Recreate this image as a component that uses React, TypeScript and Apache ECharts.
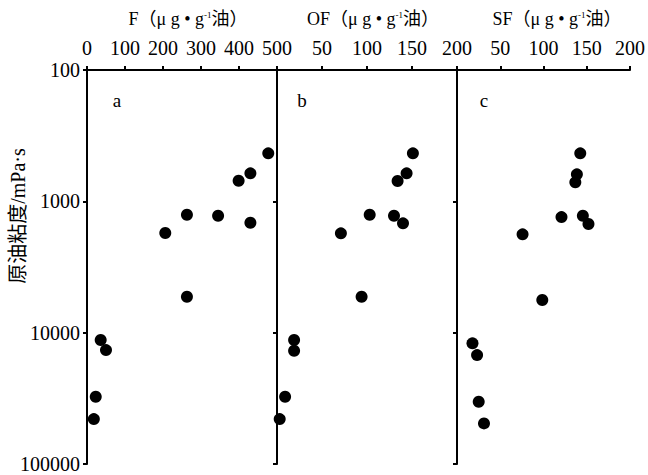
import React, { useEffect, useRef } from "react";
import * as echarts from "echarts";

// Panel a: F content (μg/g oil) vs crude oil viscosity (mPa·s)
const fValues = [477, 430, 399, 263, 345, 430, 206, 263, 36, 50, 23, 18];
const viscA = [431, 612, 697, 1265, 1288, 1455, 1743, 5330, 11380, 13570, 30760, 45500];
// Panel b: OF content
const ofValues = [151, 144, 134, 103, 130, 140, 71, 94, 19, 19, 9, 3];
const viscB = [431, 612, 700, 1265, 1288, 1471, 1753, 5330, 11380, 13730, 30760, 45500];
// Panel c: SF content
const sfValues = [142.5, 138.6, 136.8, 120.8, 145.5, 152, 75.8, 98.6, 17.9, 23.2, 25.1, 31.2];
const viscC = [431, 623, 717, 1318, 1288, 1489, 1784, 5646, 12060, 14820, 33600, 49100];

const panelTitles = ["F", "OF", "SF"];
const panelLetters = ["a", "b", "c"];
const yTitle = "原油粘度/mPa·s";

const FONT = '"Liberation Serif", "Noto Sans CJK SC", serif';

export default function App() {
  const ref = useRef<HTMLDivElement>(null);
  useEffect(() => {
    document.body.style.margin = "0";
    const chart = echarts.init(ref.current!, null, { renderer: "svg" });
    const grids = [
      { left: 87, top: 70, width: 190, height: 394 },
      { left: 277, top: 70, width: 180, height: 394 },
      { left: 457, top: 70, width: 175, height: 394 },
    ];
    const xRanges = [
      { max: 500, interval: 100 },
      { max: 200, interval: 50 },
      { max: 200, interval: 50 },
    ];
    const lineStyle = { color: "#000", width: 2 };
    const xAxis = xRanges.map((r, i) => ({
      type: "value",
      gridIndex: i,
      position: "top",
      min: 0,
      max: r.max,
      interval: r.interval,
      axisLine: { show: true, onZero: false, lineStyle },
      axisTick: { show: true, inside: false, length: 4, lineStyle },
      axisLabel: {
        color: "#000",
        fontFamily: FONT,
        fontSize: 20,
        margin: 12,
        showMinLabel: i === 0,
        formatter: (v: number) => (i > 0 && v === 0 ? "" : String(v)),
      },
      splitLine: { show: false },
    }));
    const yAxis = grids.map((_, i) => ({
      type: "log",
      gridIndex: i,
      logBase: 10,
      min: 100,
      max: 100000,
      inverse: true,
      axisLine: { show: true, onZero: false, lineStyle },
      axisTick: { show: true, inside: false, length: 4, lineStyle },
      axisLabel: {
        show: i === 0,
        color: "#000",
        fontFamily: FONT,
        fontSize: 20,
        margin: 7,
        formatter: (v: number) => String(Math.round(v)),
      },
      minorTick: { show: false },
      splitLine: { show: false },
    }));
    const datasets = [
      [fValues, viscA],
      [ofValues, viscB],
      [sfValues, viscC],
    ];
    const series = datasets.map(([xs, ys], i) => ({
      type: "scatter",
      xAxisIndex: i,
      yAxisIndex: i,
      symbol: "circle",
      symbolSize: 12,
      itemStyle: { color: "#000", opacity: 1 },
      data: xs.map((x, k) => [x, ys[k]]),
    }));
    const titleX = [188, 373, 557];
    const letterX = [117, 302, 484];
    const graphic: any[] = [];
    panelTitles.forEach((t, i) => {
      graphic.push({
        type: "text",
        x: titleX[i],
        y: 19,
        style: {
          text: `{a|${t}（μ g • g}{s|-1}{a|油）}`,
          align: "center",
          verticalAlign: "middle",
          fill: "#000",
          rich: {
            a: { fontFamily: FONT, fontSize: 18, fill: "#000", color: "#000" },
            s: { fontFamily: FONT, fontSize: 9, color: "#000", padding: [0, 0, 8, 0] },
          },
        },
      });
      graphic.push({
        type: "text",
        x: letterX[i],
        y: 100,
        style: {
          text: panelLetters[i],
          font: `19px ${FONT}`,
          fill: "#000",
          align: "center",
          verticalAlign: "middle",
        },
      });
    });
    graphic.push({
      type: "text",
      x: 18,
      y: 216,
      rotation: Math.PI / 2,
      style: {
        text: yTitle,
        font: `20px ${FONT}`,
        fill: "#000",
        align: "center",
        verticalAlign: "middle",
      },
    });
    chart.setOption({
      animation: false,
      backgroundColor: "#fff",
      grid: grids,
      xAxis,
      yAxis,
      series,
      graphic,
    });
    return () => chart.dispose();
  }, []);
  return (
    <div
      ref={ref}
      style={{ position: "fixed", left: 0, top: 0, width: 648, height: 475 }}
    />
  );
}
